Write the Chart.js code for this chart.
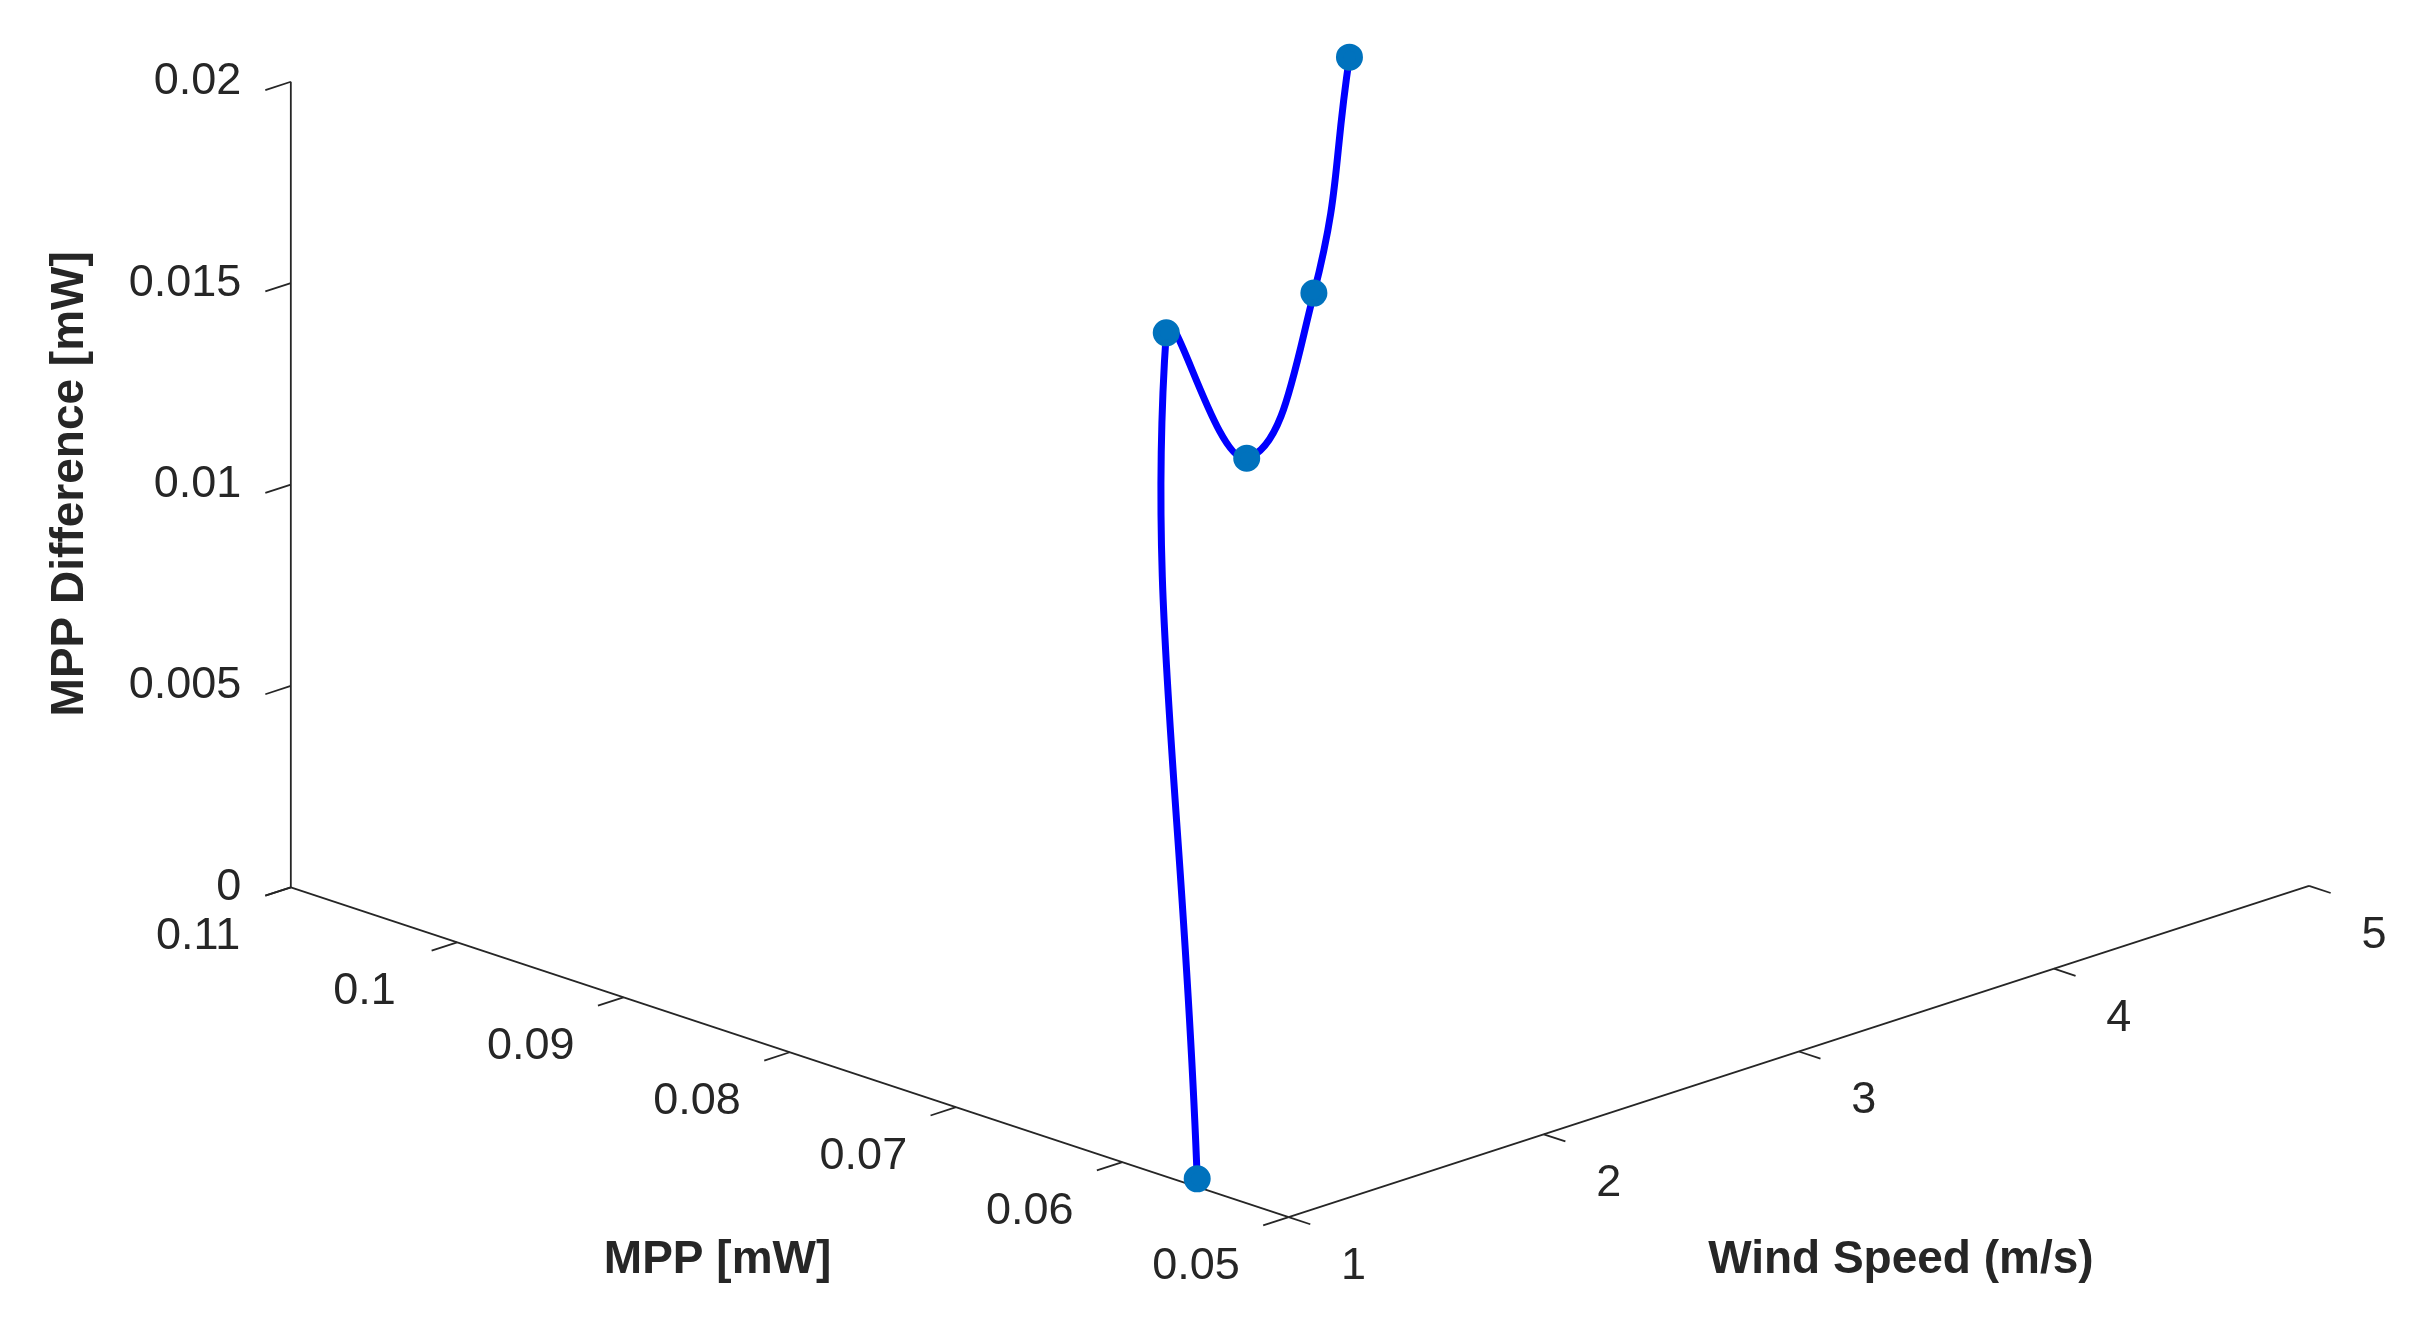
<!DOCTYPE html>
<html>
<head>
<meta charset="utf-8">
<script src="https://cdn.jsdelivr.net/npm/chart.js@4"></script>
<style>
  html, body { margin: 0; padding: 0; background: #fff; }
  #wrap { width: 2422px; height: 1332px; }
</style>
</head>
<body>
<div id="wrap"><canvas id="graphique"></canvas></div>
<script>
// données
const vitesseVent = [1, 2, 3, 4, 5];
const mpp = [0.0555, 0.0727, 0.0832, 0.0945, 0.1077];
const diffMpp = [0.0002, 0.0168, 0.0102, 0.0107, 0.0127];

const ticksVent = [1, 2, 3, 4, 5];
const ticksMpp = [0.05, 0.06, 0.07, 0.08, 0.09, 0.1, 0.11];
const ticksDiff = [0, 0.005, 0.01, 0.015, 0.02];
const labelsMpp = ['0.05', '0.06', '0.07', '0.08', '0.09', '0.1', '0.11'];
const labelsDiff = ['0', '0.005', '0.01', '0.015', '0.02'];

// projection 3D -> plan (unités de la figure)
function projeter(w, m, d) {
    const a = w - 1, b = (m - 0.05) / 0.01, c = d / 0.005;
    return { x: 835 + 167.5 * a - 109.2 * b, y: 797 - 55 * a - 36.5 * b - 133.75 * c };
}

const points = vitesseVent.map((w, i) => projeter(w, mpp[i], diffMpp[i]));
const S = 2422 / 1568;

// axes 3D dessinés à la main
const axes3d = {
    id: 'axes3d',
    beforeDatasetsDraw(chart) {
        const c = chart.ctx, sx = chart.scales.x, sy = chart.scales.y;
        const P = p => [sx.getPixelForValue(p.x), sy.getPixelForValue(p.y)];
        const ligne = (p1, p2) => {
            const a = P(p1), b = P(p2);
            c.beginPath(); c.moveTo(a[0], a[1]); c.lineTo(b[0], b[1]); c.stroke();
        };
        const texte = (t, p, dx, dy, align) => {
            const a = P(p);
            c.textAlign = align || 'center';
            c.fillText(t, a[0] + dx * S, a[1] + dy * S);
        };
        c.save();
        c.strokeStyle = '#262626';
        c.lineWidth = 1.8;
        c.fillStyle = '#262626';
        c.textBaseline = 'middle';
        c.font = Math.round(29 * S) + 'px "Liberation Sans", Arial, sans-serif';

        // axe vertical
        ligne(projeter(1, 0.11, 0), projeter(1, 0.11, 0.02));
        ticksDiff.forEach((v, i) => {
            ligne(projeter(1, 0.11, v), projeter(0.9, 0.11, v));
            texte(labelsDiff[i], projeter(1, 0.11, v), -32, 0, 'right');
        });
        // axe MPP
        ligne(projeter(1, 0.05, 0), projeter(1, 0.11, 0));
        ticksMpp.forEach((v, i) => {
            ligne(projeter(1, v, 0), projeter(0.9, v, 0));
            texte(labelsMpp[i], projeter(1, v, 0), -60, 32);
        });
        // axe vent
        ligne(projeter(1, 0.05, 0), projeter(5, 0.05, 0));
        ticksVent.forEach(v => {
            ligne(projeter(v, 0.05, 0), projeter(v, 0.0487, 0));
            texte(String(v), projeter(v, 0.05, 0), 42, 32);
        });

        // titres
        c.font = 'bold ' + Math.round(30 * S) + 'px "Liberation Sans", Arial, sans-serif';
        c.textAlign = 'center';
        c.fillText('MPP [mW]', sx.getPixelForValue(460), sy.getPixelForValue(826));
        c.fillText('Wind Speed (m/s)', sx.getPixelForValue(1237), sy.getPixelForValue(826));
        c.translate(sx.getPixelForValue(35), sy.getPixelForValue(310));
        c.rotate(-Math.PI / 2);
        c.fillText('MPP Difference [mW]', 0, 0);
        c.restore();
    }
};

new Chart(document.getElementById('graphique'), {
    type: 'line',
    data: {
        datasets: [{
            data: points,
            borderColor: '#0000ff',
            borderWidth: 7,
            tension: 0.45,
            pointRadius: 10,
            pointBackgroundColor: '#0072BD',
            pointBorderColor: '#0072BD',
            fill: false
        }]
    },
    options: {
        responsive: true,
        maintainAspectRatio: false,
        animation: false,
        layout: { padding: 0 },
        scales: {
            x: { type: 'linear', min: 0, max: 1568, display: false },
            y: { type: 'linear', min: 0, max: 862, reverse: true, display: false }
        },
        plugins: { legend: { display: false }, tooltip: { enabled: false } }
    },
    plugins: [axes3d]
});
</script>
</body>
</html>
